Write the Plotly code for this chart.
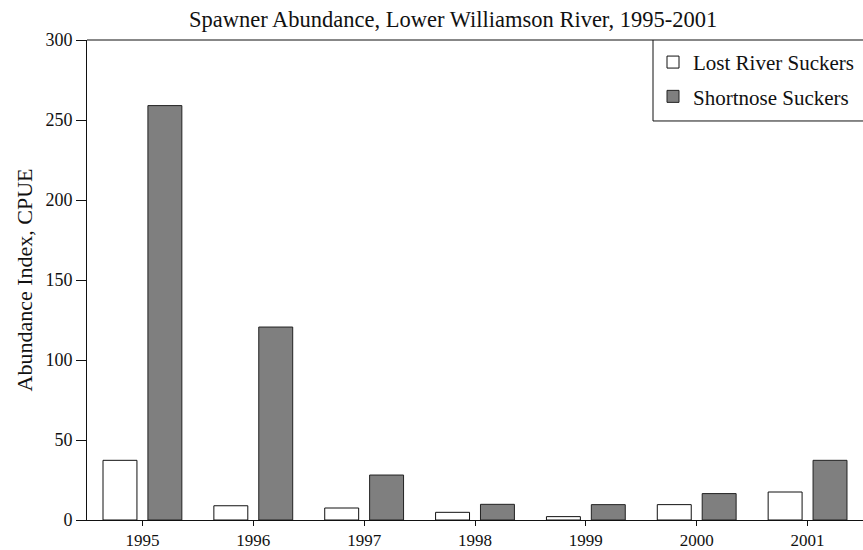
import plotly.graph_objects as go

years = ["1995", "1996", "1997", "1998", "1999", "2000", "2001"]
lost_river = [37.3, 8.9, 7.5, 4.8, 2.1, 9.6, 17.5]
shortnose = [259.0, 120.6, 28.1, 9.8, 9.6, 16.5, 37.3]
y_ticks = [0, 50, 100, 150, 200, 250, 300]

FONT = "Liberation Serif"
INK = "#111111"

fig = go.Figure()
fig.add_trace(go.Bar(
    x=years, y=lost_river, name="Lost River Suckers",
    marker=dict(color="white", line=dict(color=INK, width=1)),
    legendgroup="a",
))
fig.add_trace(go.Bar(
    x=years, y=shortnose, name="Shortnose Suckers",
    marker=dict(color="#7f7f7f", line=dict(color="#222222", width=1)),
    legendgroup="b",
))

fig.update_layout(
    width=863, height=550,
    margin=dict(l=87, r=0, t=40, b=30, autoexpand=False),
    paper_bgcolor="white", plot_bgcolor="white",
    font=dict(family=FONT, size=18, color=INK),
    barmode="group", bargap=0.19, bargroupgap=0.244,
    title=dict(text="Spawner Abundance, Lower Williamson River, 1995-2001",
               x=0.525, xanchor="center", y=0.966, yanchor="middle",
               font=dict(family=FONT, size=22.5, color=INK)),
    showlegend=True,
    legend=dict(x=0.7294, xanchor="left", y=0.996, yanchor="top",
                bgcolor="rgba(0,0,0,0)", borderwidth=0,
                traceorder="grouped", tracegroupgap=4,
                font=dict(family=FONT, size=21, color=INK)),
    xaxis=dict(type="category", range=[-0.5, 6.5], automargin=False,
               showline=True, linecolor=INK, linewidth=1,
               ticks="outside", ticklen=5, tickcolor=INK,
               tickfont=dict(size=17),
               showgrid=False, zeroline=False),
    yaxis=dict(range=[0, 300], tickvals=y_ticks, automargin=False,
               showline=True, linecolor=INK, linewidth=1,
               ticks="outside", ticklen=10, tickcolor=INK,
               tickfont=dict(size=18),
               showgrid=False, zeroline=False,
               title=dict(text="Abundance Index, CPUE", standoff=6,
                          font=dict(family=FONT, size=22))),
    shapes=[
        # top frame line across the plot area
        dict(type="line", xref="paper", yref="paper", x0=0, x1=1, y0=1, y1=1,
             line=dict(color=INK, width=1)),
        # legend box: left and bottom edges
        dict(type="line", xref="paper", yref="paper", x0=0.7294, x1=0.7294,
             y0=0.8313, y1=1, line=dict(color=INK, width=1)),
        dict(type="line", xref="paper", yref="paper", x0=0.7294, x1=1,
             y0=0.8313, y1=0.8313, line=dict(color=INK, width=1)),
    ],
)

fig.write_html("out.html")
